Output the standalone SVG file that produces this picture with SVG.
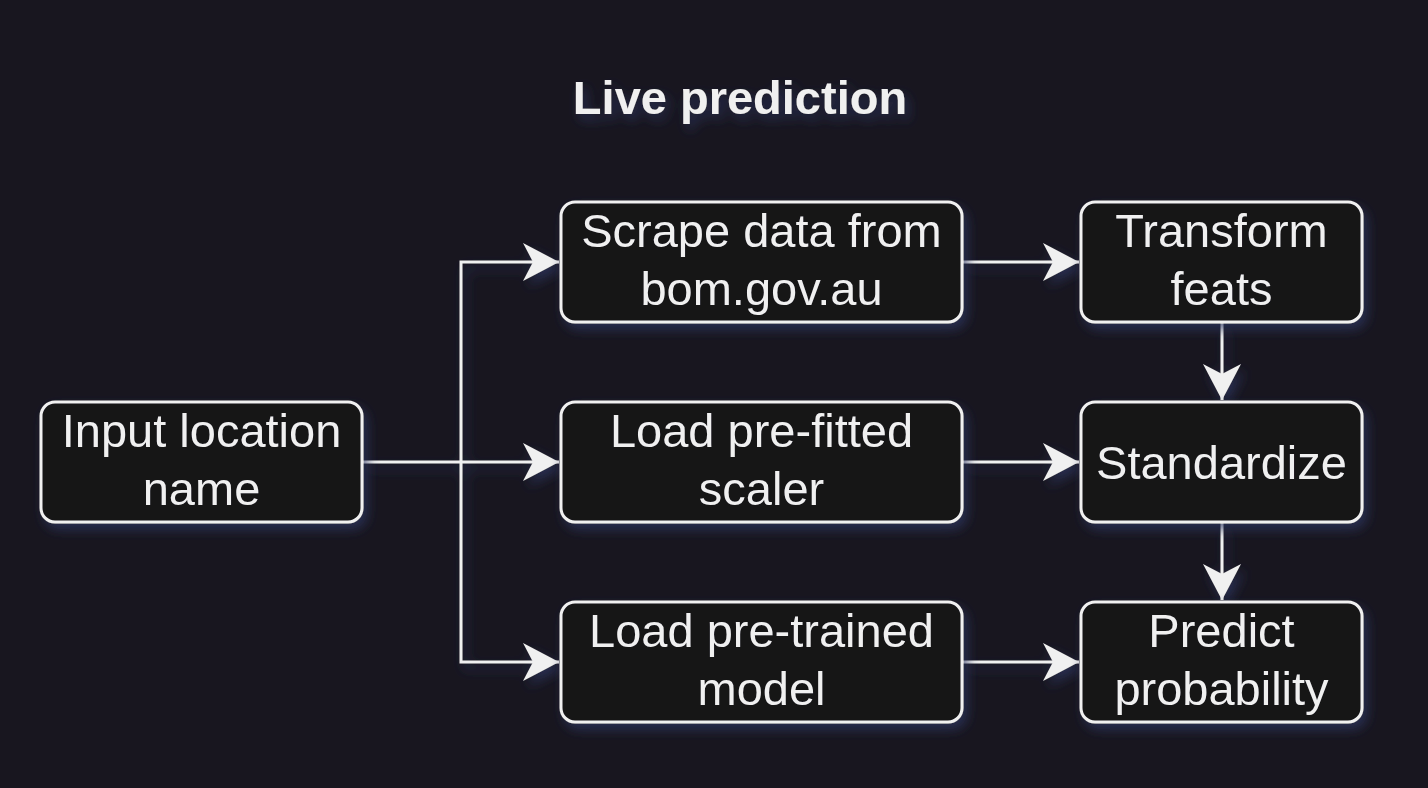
<svg xmlns="http://www.w3.org/2000/svg" width="1428" height="788" viewBox="0 0 1428 788">
<style>
.box{fill:#141318;stroke:#f0f0f0;stroke-width:3}
.lbl{font-family:"Liberation Sans",Arial,Helvetica,sans-serif;font-size:47px;fill:#f0f0f0;text-anchor:middle}
.title{font-weight:bold}
.edge{fill:none;stroke:#f0f0f0;stroke-width:3}
</style>
<defs>
<filter id="sh" x="-20%" y="-20%" width="140%" height="150%">
<feDropShadow dx="4" dy="6" stdDeviation="6" flood-color="#2e3562" flood-opacity="0.75"/>
</filter>
<marker id="arr" markerUnits="userSpaceOnUse" markerWidth="40" markerHeight="40" viewBox="-37 -20 40 40" refX="0" refY="0" orient="auto">
<path d="M0,0 L-36,-19 L-26,0 L-36,19 Z" fill="#f0f0f0"/>
</marker>
</defs>
<rect width="1428" height="788" fill="#18161f"/>
<text class="lbl title" x="740" y="114" filter="url(#sh)">Live prediction</text>
<g id="connectors" filter="url(#sh)">
<path class="edge" d="M362,462 H559" marker-end="url(#arr)"/>
<path class="edge" d="M461,462 V262 H559" marker-end="url(#arr)"/>
<path class="edge" d="M461,462 V662 H559" marker-end="url(#arr)"/>
<path class="edge" d="M962,262 H1079" marker-end="url(#arr)"/>
<path class="edge" d="M962,462 H1079" marker-end="url(#arr)"/>
<path class="edge" d="M962,662 H1079" marker-end="url(#arr)"/>
<path class="edge" d="M1222,322 V400" marker-end="url(#arr)"/>
<path class="edge" d="M1222,522 V600" marker-end="url(#arr)"/>
</g>
<g id="input" filter="url(#sh)">
<rect class="box" x="41" y="402" width="321" height="120" rx="14"/>
<text class="lbl" x="201.5" y="446.7">Input location</text>
<text class="lbl" x="201.5" y="505">name</text>
</g>
<g id="scrape" filter="url(#sh)">
<rect class="box" x="561" y="202" width="401" height="120" rx="14"/>
<text class="lbl" x="761.5" y="246.7">Scrape data from</text>
<text class="lbl" x="761.5" y="305">bom.gov.au</text>
</g>
<g id="scaler" filter="url(#sh)">
<rect class="box" x="561" y="402" width="401" height="120" rx="14"/>
<text class="lbl" x="761.5" y="446.7">Load pre-fitted</text>
<text class="lbl" x="761.5" y="505">scaler</text>
</g>
<g id="model" filter="url(#sh)">
<rect class="box" x="561" y="602" width="401" height="120" rx="14"/>
<text class="lbl" x="761.5" y="646.7">Load pre-trained</text>
<text class="lbl" x="761.5" y="705">model</text>
</g>
<g id="transform" filter="url(#sh)">
<rect class="box" x="1081" y="202" width="281" height="120" rx="14"/>
<text class="lbl" x="1221.5" y="246.7">Transform</text>
<text class="lbl" x="1221.5" y="305">feats</text>
</g>
<g id="standardize" filter="url(#sh)">
<rect class="box" x="1081" y="402" width="281" height="120" rx="14"/>
<text class="lbl" x="1221.5" y="478.5">Standardize</text>
</g>
<g id="predict" filter="url(#sh)">
<rect class="box" x="1081" y="602" width="281" height="120" rx="14"/>
<text class="lbl" x="1221.5" y="646.7">Predict</text>
<text class="lbl" x="1221.5" y="705">probability</text>
</g>
</svg>
